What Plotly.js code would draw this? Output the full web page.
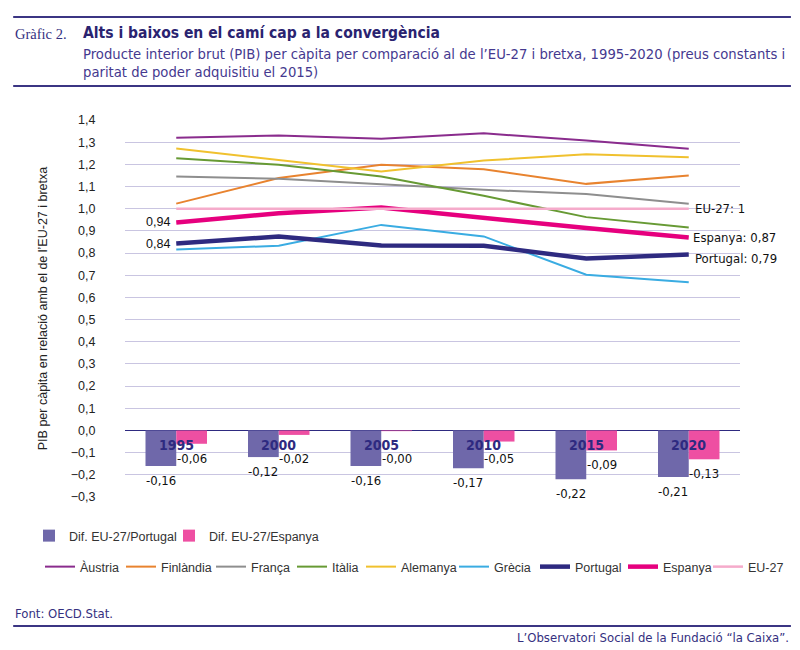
<!DOCTYPE html>
<html><head><meta charset="utf-8">
<script src="https://cdn.plot.ly/plotly-3.0.1.min.js"></script>
<style>html,body{margin:0;padding:0;background:#fff;overflow:hidden}#chart{width:800px;height:650px;overflow:hidden}</style>
</head><body><div id="chart"></div>
<script>
// ---- data ----
const years = ["1995","2000","2005","2010","2015","2020"];
const austria   = [1.32, 1.33, 1.315, 1.34, 1.307, 1.27];
const finlandia = [1.023, 1.138, 1.198, 1.178, 1.112, 1.15];
const franca    = [1.145, 1.135, 1.11, 1.085, 1.066, 1.022];
const italia    = [1.228, 1.198, 1.145, 1.058, 0.962, 0.915];
const alemanya  = [1.271, 1.22, 1.168, 1.217, 1.246, 1.232];
const grecia    = [0.816, 0.833, 0.927, 0.875, 0.702, 0.668];
const portugal  = [0.843, 0.875, 0.834, 0.833, 0.775, 0.794];
const espanya   = [0.938, 0.98, 1.005, 0.958, 0.913, 0.87];
const eu27      = [1, 1, 1, 1, 1, 1];
const difPortugal = [-0.16, -0.12, -0.16, -0.17, -0.22, -0.21];
const difEspanya  = [-0.06, -0.02, -0.003, -0.05, -0.09, -0.13];

// ---- layout helpers ----
const W = 800, H = 650, L = 125, R = 741, T = 120, B = 497;
const px2x = px => (px - L) / (R - L);
const px2y = py => (B - py) / (B - T);
const fmt = v => v.toFixed(2).replace('.', ',');
const BARGAP = 0.4;
const barPx = (R - L) / years.length * (1 - BARGAP) / 2;

const NARROW = "'Liberation Sans Narrow', 'DejaVu Sans Condensed', 'Arial Narrow', sans-serif";
const SANS = "'Liberation Sans', Arial, sans-serif";
const NAVY = '#35307f';

// legend placement: [text start px, row y px]
const legendPos = [[71,536],[211,536],[82,567],[163,567],[253,567],[334,567],[403,567],[496,567],[577,567],[665,567],[750,567]];
const legendId = i => i === 0 ? 'legend' : 'legend' + (i + 1);

const data = [
  {type: 'bar', name: 'Dif. EU-27/Portugal', x: years, y: difPortugal, marker: {color: '#6f68aa'}, textposition: 'none'},
  {type: 'bar', name: 'Dif. EU-27/Espanya', x: years, y: difEspanya, marker: {color: '#ee4fa2'}, textposition: 'none'}
];
const lines = [
  ['Àustria', austria, '#8a2c8d', 2],
  ['Finlàndia', finlandia, '#e8832f', 2],
  ['França', franca, '#8e8e8e', 2],
  ['Itàlia', italia, '#679a34', 2],
  ['Alemanya', alemanya, '#f0c12e', 2],
  ['Grècia', grecia, '#3aace2', 2],
  ['Portugal', portugal, '#2e2a80', 4.5],
  ['Espanya', espanya, '#e6007e', 4.5],
  ['EU-27', eu27, '#f5abcb', 2.5]
];
lines.forEach(([name, y, color, w]) => data.push({type: 'scatter', mode: 'lines', name: name, x: years, y: y,
  line: {color: color, width: w}, cliponaxis: false}));
data.forEach((tr, i) => { tr.legend = legendId(i); });

const annotations = [];
// header
annotations.push({xref:'paper', yref:'paper', x:px2x(13), y:px2y(34), xanchor:'left', yanchor:'middle',
  text:'Gràfic 2.', showarrow:false, font:{family:"'Liberation Serif', 'DejaVu Serif', serif", size:14.5, color:NAVY}});
annotations.push({xref:'paper', yref:'paper', x:px2x(81), y:px2y(33), xanchor:'left', yanchor:'middle',
  text:'<b>Alts i baixos en el camí cap a la convergència</b>', showarrow:false,
  font:{family:NARROW, size:15.5, color:'#2a2370'}});
annotations.push({xref:'paper', yref:'paper', x:px2x(81), y:px2y(53), xanchor:'left', yanchor:'middle',
  text:'Producte interior brut (PIB) per càpita per comparació al de l’EU-27 i bretxa, 1995-2020 (preus constants i',
  showarrow:false, font:{family:NARROW, size:14.7, color:'#45398f'}});
annotations.push({xref:'paper', yref:'paper', x:px2x(81), y:px2y(72), xanchor:'left', yanchor:'middle',
  text:'paritat de poder adquisitiu el 2015)', showarrow:false, font:{family:NARROW, size:14.7, color:'#45398f'}});
// footer
annotations.push({xref:'paper', yref:'paper', x:px2x(13), y:px2y(613), xanchor:'left', yanchor:'middle',
  text:'Font: OECD.Stat.', showarrow:false, font:{family:NARROW, size:13, color:NAVY}});
annotations.push({xref:'paper', yref:'paper', x:px2x(792), y:px2y(637), xanchor:'right', yanchor:'middle',
  text:'L’Observatori Social de la Fundació “la Caixa”.', showarrow:false, font:{family:NARROW, size:13, color:NAVY}});
// year labels on bars (category index positions)
years.forEach((yr, i) => annotations.push({x: i, y: 0, xref:'x', yref:'y', yanchor:'top', yshift:-5,
  text:'<b>'+yr+'</b>', showarrow:false, font:{family:NARROW, size:14, color:'#2e2a80'}}));
// bar value labels
years.forEach((yr, i) => {
  annotations.push({x: i, y: difPortugal[i], xref:'x', yref:'y', xanchor:'center', yanchor:'top', xshift:-barPx/2, yshift:-5,
    text: fmt(difPortugal[i]), showarrow:false, font:{family:NARROW, size:13, color:'#111'}});
  annotations.push({x: i, y: Math.min(difEspanya[i], -0.06), xref:'x', yref:'y', xanchor:'center', yanchor:'top', xshift:barPx/2, yshift:-5,
    text: fmt(difEspanya[i]), showarrow:false, font:{family:NARROW, size:13, color:'#111'}});
});
// start labels
annotations.push({x: 0, y: espanya[0], xref:'x', yref:'y', xanchor:'right', xshift:-4, text: fmt(espanya[0]), showarrow:false,
  font:{family:SANS, size:12.5, color:'#111'}});
annotations.push({x: 0, y: portugal[0], xref:'x', yref:'y', xanchor:'right', xshift:-4, text: fmt(portugal[0]), showarrow:false,
  font:{family:SANS, size:12.5, color:'#111'}});
// end labels
const n = years.length - 1;
annotations.push({x: n, y: eu27[n], xref:'x', yref:'y', xanchor:'left', xshift:4, text: 'EU-27: ' + eu27[n], showarrow:false,
  font:{family:NARROW, size:13, color:'#111'}});
annotations.push({x: n, y: espanya[n], xref:'x', yref:'y', xanchor:'left', xshift:2, text: 'Espanya: ' + fmt(espanya[n]), showarrow:false,
  font:{family:NARROW, size:13, color:'#111'}});
annotations.push({x: n, y: portugal[n], xref:'x', yref:'y', xanchor:'left', xshift:4, yshift:-4, text: 'Portugal: ' + fmt(portugal[n]), showarrow:false,
  font:{family:NARROW, size:13, color:'#111'}});

const hline = (py, w) => ({type:'line', xref:'paper', yref:'paper', x0:px2x(13), x1:px2x(792),
  y0:px2y(py), y1:px2y(py), line:{color:'#3b3583', width:w}});

const layout = {
  width: W, height: H,
  margin: {l: L, r: W - R, t: T, b: H - B, pad: 0},
  paper_bgcolor: '#fff', plot_bgcolor: '#fff',
  separators: ', ',
  barmode: 'group', bargap: BARGAP, bargroupgap: 0,
  showlegend: true,
  font: {family: SANS, color: '#222'},
  xaxis: {type: 'category', range: [-0.5, 5.5], showticklabels: false, showgrid: false,
    zeroline: false, showline: false, ticks: ''},
  yaxis: {range: [-0.3, 1.4], dtick: 0.1, tick0: 0, tickformat: '.1f',
    showgrid: true, gridcolor: '#c9c5e1', gridwidth: 1,
    zeroline: true, zerolinecolor: '#2e2a80', zerolinewidth: 1.5,
    ticks: 'outside', ticklen: 26, tickcolor: 'rgba(0,0,0,0)',
    tickfont: {family: SANS, size: 12.5, color: '#222'},
    title: {text: 'PIB per càpita en relació amb el de l’EU-27 i bretxa', standoff: 20,
      font: {family: SANS, size: 12.5, color: '#222'}}},
  shapes: [hline(17, 2), hline(86, 2), hline(626, 2)],
  annotations: annotations
};
legendPos.forEach(([tx, ty], i) => {
  layout[legendId(i)] = {orientation: 'h', x: px2x(tx - 42), y: px2y(ty), xanchor: 'left', yanchor: 'middle',
    font: {family: SANS, size: 12.5, color: '#333'}, bgcolor: 'rgba(0,0,0,0)'};
});

Plotly.newPlot('chart', data, layout, {staticPlot: true, displayModeBar: false});
</script></body></html>
